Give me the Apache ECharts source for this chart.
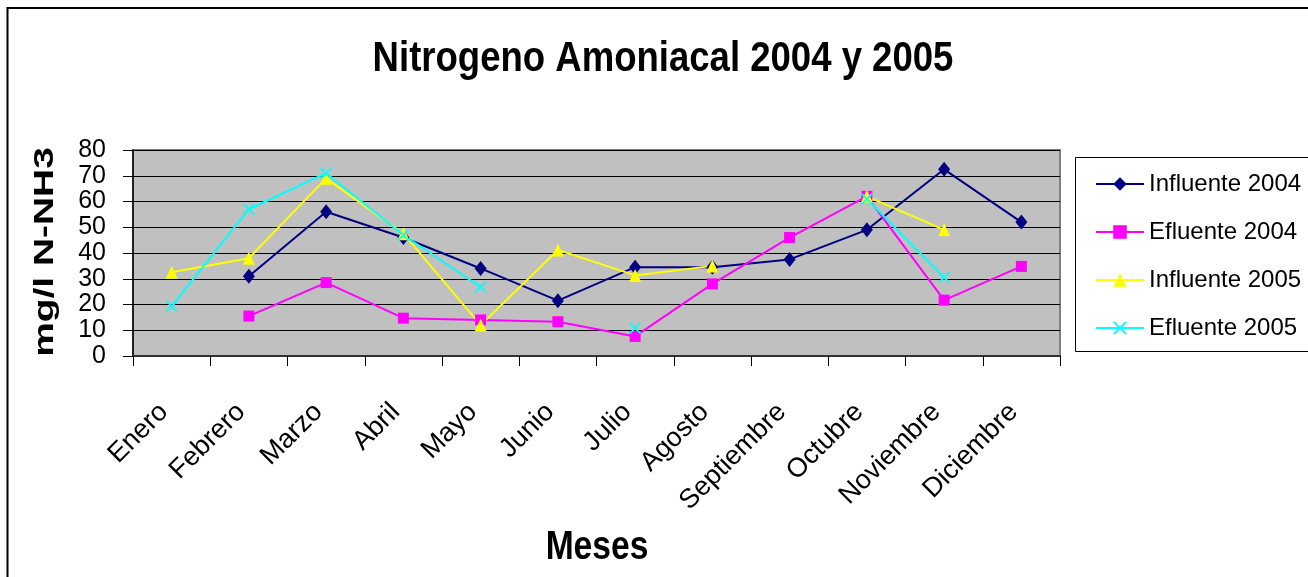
<!DOCTYPE html>
<html>
<head>
<meta charset="utf-8">
<script src="https://cdn.jsdelivr.net/npm/echarts@6/dist/echarts.min.js"></script>
<style>
  html, body { margin: 0; padding: 0; background: #fff; }
  #main { width: 1308px; height: 577px; }
</style>
</head>
<body>
<div id="main"></div>
<script>
// datos
var meses = ['Enero', 'Febrero', 'Marzo', 'Abril', 'Mayo', 'Junio', 'Julio', 'Agosto', 'Septiembre', 'Octubre', 'Noviembre', 'Diciembre'];
var influente2004 = [null, 31, 56, 46, 34, 21.5, 34.5, 34.5, 37.5, 49, 72.5, 52];
var efluente2004 = [null, 15.5, 28.5, 14.7, 14, 13.3, 7.6, 28, 46, 62, 21.7, 34.8];
var influente2005 = [32.5, 38, 69, 47.5, 12, 41.2, 31.3, 35, null, 62, 49, null];
var efluente2005 = [19.3, 57, 71, 47, 26.8, null, 10.8, null, null, 61, 30.5, null];
var yTicks = { min: 0, max: 80, interval: 10 };

var myChart = echarts.init(document.getElementById('main'));

var fuente = 'Liberation Sans, Arial, sans-serif';
var cruz = 'path://M0,1L1,0L5,4L9,0L10,1L6,5L10,9L9,10L5,6L1,10L0,9L4,5Z';

function serie(nombre, datos, color, simbolo, tam) {
    return {
        name: nombre,
        type: 'line',
        data: datos,
        symbol: simbolo,
        symbolSize: tam,
        showAllSymbol: true,
        connectNulls: false,
        lineStyle: { color: color, width: 2 },
        itemStyle: { color: color },
        emphasis: { disabled: true }
    };
}

// textos grandes (fuente estrecha en el original -> escala horizontal)
function texto(t, x, y, size, sx, rot) {
    return {
        type: 'text', x: x, y: y, scaleX: sx, rotation: rot || 0, silent: true,
        style: { text: t, fontFamily: fuente, fontSize: size, fontWeight: 'bold', fill: '#000', align: 'center', verticalAlign: 'middle' }
    };
}

var option = {
    animation: false,
    backgroundColor: '#ffffff',
    graphic: [
        { type: 'rect', shape: { x: 7.5, y: 8, width: 1320, height: 600 }, style: { fill: 'none', stroke: '#000', lineWidth: 2 }, silent: true },
        { type: 'rect', shape: { x: 1075.5, y: 157.5, width: 240, height: 194 }, style: { fill: '#fff', stroke: '#000', lineWidth: 1 }, silent: true, z: 0 },
        texto('Nitrogeno Amoniacal 2004 y 2005', 663, 59, 42, 0.87),
        texto('Meses', 597, 548, 40, 0.84),
        texto('mg/l N-NH3', 46, 252, 27, 1.44, Math.PI / 2)
    ],
    legend: {
        orient: 'vertical',
        left: 1090,
        top: 167,
        itemWidth: 48,
        itemHeight: 17,
        itemGap: 24,
        textStyle: { fontFamily: fuente, fontSize: 24, color: '#000' },
        data: ['Influente 2004', 'Efluente 2004', 'Influente 2005', 'Efluente 2005']
    },
    grid: {
        left: 133,
        right: 248,
        top: 150,
        bottom: 221,
        show: true,
        backgroundColor: '#c0c0c0',
        borderColor: '#808080',
        borderWidth: 2
    },
    xAxis: {
        type: 'category',
        data: meses,
        boundaryGap: true,
        axisLine: { lineStyle: { color: '#333', width: 2 } },
        axisTick: { show: true, length: 10, lineStyle: { color: '#000' } },
        axisLabel: {
            rotate: 45,
            interval: 0,
            margin: 44,
            padding: [0, 11, 0, 0],
            fontFamily: fuente,
            fontSize: 27,
            color: '#000'
        }
    },
    yAxis: {
        type: 'value',
        min: yTicks.min,
        max: yTicks.max,
        interval: yTicks.interval,
        axisLine: { show: true, lineStyle: { color: '#000', width: 1.5 } },
        axisTick: { show: true, length: 10, lineStyle: { color: '#000' } },
        axisLabel: {
            margin: 27,
            showMinLabel: true,
            showMaxLabel: true,
            hideOverlap: false,
            lineHeight: 24,
            fontFamily: fuente,
            fontSize: 25,
            color: '#000'
        },
        splitLine: { lineStyle: { color: '#000', width: 1.2 } }
    },
    series: [
        serie('Influente 2004', influente2004, '#000080', 'diamond', [12, 15]),
        serie('Efluente 2004', efluente2004, '#ff00ff', 'rect', 11),
        serie('Influente 2005', influente2005, '#ffff00', 'triangle', [12, 13]),
        serie('Efluente 2005', efluente2005, '#00ffff', cruz, [12, 12])
    ]
};

myChart.setOption(option);
</script>
</body>
</html>
